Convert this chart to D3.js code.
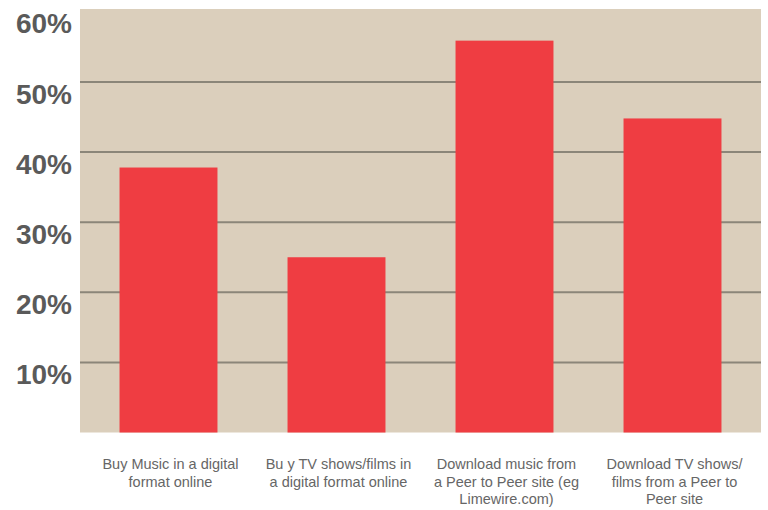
<!DOCTYPE html>
<html><head><meta charset="utf-8">
<script src="https://cdn.jsdelivr.net/npm/d3@7"></script>
<style>body{margin:0;background:#fff}</style>
</head><body>
<svg id="c" width="768" height="510"></svg>
<script>
const categories = [
  ["Buy Music in a digital", "format online"],
  ["Bu y TV shows/films in", "a digital format online"],
  ["Download music from", "a Peer to Peer site (eg", "Limewire.com)"],
  ["Download TV shows/", "films from a Peer to", "Peer site"]
];
const values = [37.8, 25, 55.9, 44.8];
const yTicks = [10, 20, 30, 40, 50, 60];

const svg = d3.select("#c");
const L = 80, R = 761, T = 9, B = 432.5;
const x = d3.scaleBand().domain(d3.range(categories.length)).range([84.5, 756.5]).paddingInner(0.417).paddingOuter(0.2085);
const y = d3.scaleLinear().domain([0, 60]).range([B, B - 60 * 70.1 / 10]);

svg.append("rect").attr("x", L).attr("y", T).attr("width", R - L).attr("height", B - T).attr("fill", "#dbcfbc");

svg.selectAll(".grid").data(yTicks.filter(d => d < 60)).enter().append("line")
  .attr("x1", L).attr("x2", R).attr("y1", d => y(d)).attr("y2", d => y(d))
  .attr("stroke", "#8b8679").attr("stroke-width", 2);

svg.selectAll(".bar").data(values).enter().append("rect")
  .attr("x", (d, i) => x(i)).attr("width", x.bandwidth())
  .attr("y", d => y(d)).attr("height", d => B - y(d))
  .attr("fill", "#ef3d42");

svg.selectAll(".yl").data(yTicks).enter().append("text")
  .attr("x", 72).attr("y", d => y(d) + 21.5)
  .attr("text-anchor", "end")
  .attr("font-family", "Liberation Sans, Arial, sans-serif").attr("font-weight", "bold")
  .attr("font-size", 28).attr("fill", "#5a5a5a")
  .text(d => d + "%");

const cl = svg.selectAll(".cl").data(categories).enter().append("text")
  .attr("text-anchor", "middle")
  .attr("font-family", "Liberation Sans, Arial, sans-serif")
  .attr("font-size", 14.5).attr("fill", "#666");
cl.each(function(lines, i) {
  const t = d3.select(this);
  lines.forEach((ln, j) => {
    t.append("tspan").attr("x", x(i) + x.bandwidth() / 2 + 2).attr("y", 469 + j * 17.5).text(ln);
  });
});
</script>
</body></html>
